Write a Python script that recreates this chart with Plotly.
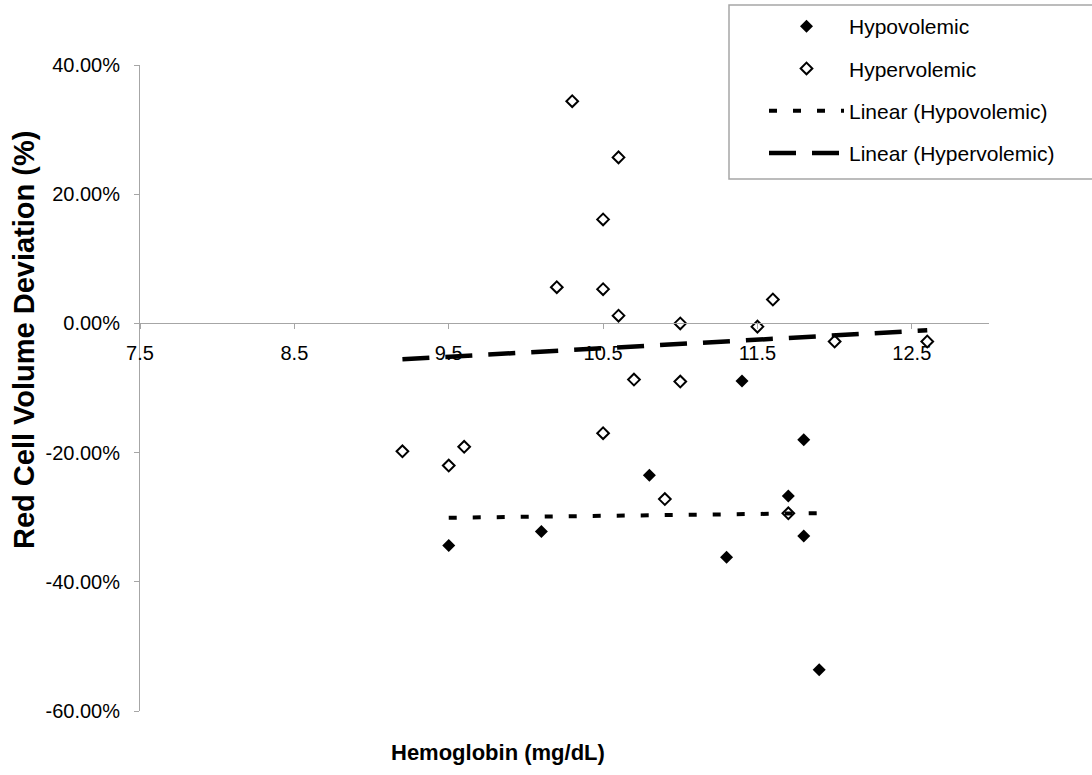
import numpy as np
import plotly.graph_objects as go

# ---- data (hemoglobin mg/dL, red cell volume deviation %) ----
hypo_x = [9.5, 10.1, 10.8, 11.3, 11.4, 11.7, 11.8, 11.8, 11.9]
hypo_y = [-34.4, -32.2, -23.5, -36.2, -8.9, -26.7, -18.0, -32.9, -53.6]

hyper_x = [10.3, 10.6, 10.5, 10.2, 10.5, 10.6, 11.0, 11.5, 11.6, 12.0, 12.6,
           11.7, 10.7, 11.0, 10.5, 9.2, 9.5, 9.6, 10.9]
hyper_y = [34.4, 25.7, 16.1, 5.6, 5.3, 1.2, 0.0, -0.5, 3.7, -2.8, -2.8,
           -29.4, -8.7, -9.0, -17.0, -19.8, -22.0, -19.1, -27.2]

x_tick_vals = [7.5, 8.5, 9.5, 10.5, 11.5, 12.5]
x_tick_text = ["7.5", "8.5", "9.5", "10.5", "11.5", "12.5"]
y_tick_vals = [-60, -40, -20, 0, 20, 40]
y_tick_text = ["-60.00%", "-40.00%", "-20.00%", "0.00%", "20.00%", "40.00%"]

FONT = "Liberation Sans, Arial, sans-serif"


def trend(xs, ys):
    k, b = np.polyfit(xs, ys, 1)
    xx = np.array([min(xs), max(xs)])
    return xx, k * xx + b


fig = go.Figure()
fig.add_trace(go.Scatter(
    x=hypo_x, y=hypo_y, mode="markers", name="Hypovolemic",
    legendgroup="a",
    marker=dict(symbol="diamond", size=10, color="black", line=dict(width=0)),
))
fig.add_trace(go.Scatter(
    x=hyper_x, y=hyper_y, mode="markers", name="Hypervolemic",
    legendgroup="b",
    marker=dict(symbol="diamond-open", size=9, color="black", line=dict(width=2, color="black")),
))
tx, ty = trend(hypo_x, hypo_y)
fig.add_trace(go.Scatter(
    x=tx, y=ty, mode="lines", name="Linear (Hypovolemic)", legendgroup="c",
    line=dict(color="black", width=4, dash="8px,16px"),
))
tx, ty = trend(hyper_x, hyper_y)
fig.add_trace(go.Scatter(
    x=tx, y=ty, mode="lines", name="Linear (Hypervolemic)", legendgroup="d",
    line=dict(color="black", width=4.5, dash="27px,16px"),
))

L, R, T, B = 140, 103, 65, 64
W, H = 1092, 775
pw, ph = W - L - R, H - T - B


def px(xp):
    return (xp - L) / pw


def py(yp):
    return (H - B - yp) / ph


fig.update_layout(
    width=W, height=H,
    margin=dict(l=L, r=R, t=T, b=B, autoexpand=False),
    paper_bgcolor="white", plot_bgcolor="white",
    font=dict(family=FONT, size=20, color="black"),
    showlegend=True,
    legend=dict(
        x=px(764), y=py(6), xanchor="left", yanchor="top",
        font=dict(family=FONT, size=21, color="black"),
        bgcolor="rgba(0,0,0,0)", borderwidth=0,
        traceorder="grouped", tracegroupgap=12, itemwidth=75,
    ),
    xaxis=dict(
        range=[7.5, 13.0], tickvals=x_tick_vals, ticktext=x_tick_text,
        showgrid=False, zeroline=False, showline=True, linecolor="#a6a6a6", linewidth=1,
        ticks="outside", ticklen=5, tickcolor="#a6a6a6",
        anchor="free", position=0.6, ticklabelstandoff=7,
        tickfont=dict(family=FONT, size=20, color="black"),
    ),
    yaxis=dict(
        range=[-60, 40], tickvals=y_tick_vals, ticktext=y_tick_text,
        showgrid=False, zeroline=False, showline=True, linecolor="#a6a6a6", linewidth=1,
        ticks="outside", ticklen=5, tickcolor="#a6a6a6", ticklabelstandoff=10,
        tickfont=dict(family=FONT, size=20, color="black"),
    ),
    shapes=[dict(
        type="rect", xref="paper", yref="paper",
        x0=px(729), x1=px(1096), y0=py(179), y1=py(5),
        line=dict(color="#a6a6a6", width=1.5), fillcolor="rgba(0,0,0,0)", layer="below",
    )],
    annotations=[
        dict(text="<b>Red Cell Volume Deviation (%)</b>", textangle=-90,
             xref="paper", yref="paper", x=px(24), y=py(340),
             xanchor="center", yanchor="middle", showarrow=False,
             font=dict(family=FONT, size=29, color="black")),
        dict(text="<b>Hemoglobin (mg/dL)</b>",
             xref="paper", yref="paper", x=px(498), y=py(752),
             xanchor="center", yanchor="middle", showarrow=False,
             font=dict(family=FONT, size=22, color="black")),
    ],
)

fig.write_html("out.html", config={"displayModeBar": False},
               post_script="document.body.style.margin='0px';")
